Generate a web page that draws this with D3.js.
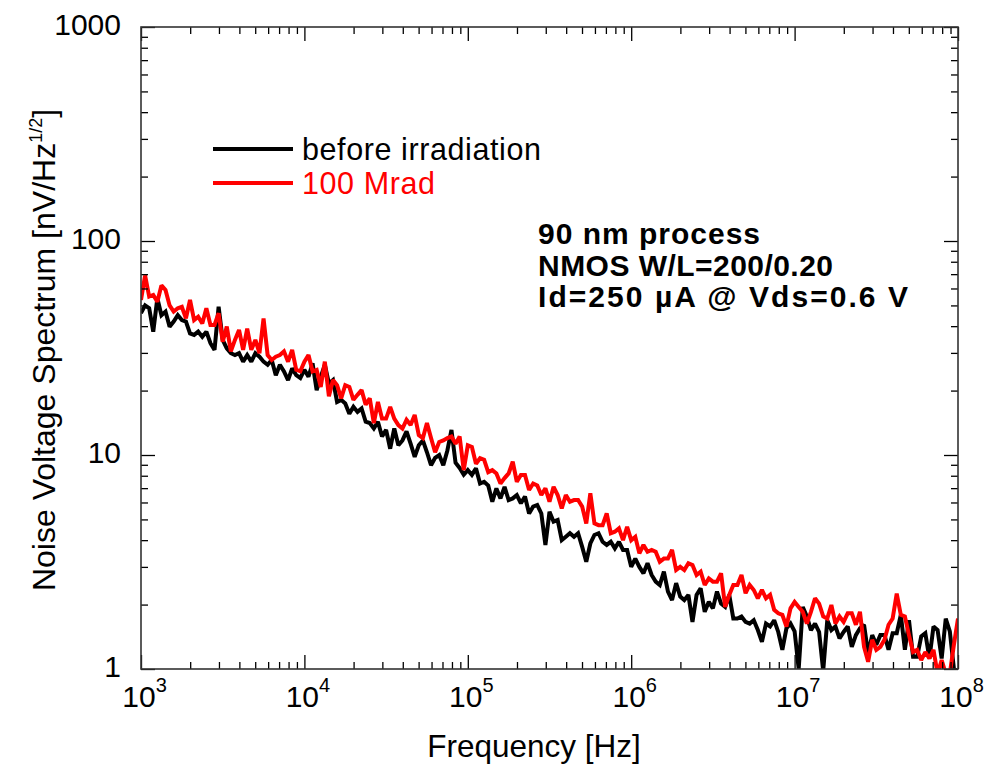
<!DOCTYPE html>
<html><head><meta charset="utf-8">
<script src="https://cdn.jsdelivr.net/npm/d3@7/dist/d3.min.js"></script>
<style>
body{margin:0;background:#fff}
svg{display:block}
text{font-family:"Liberation Sans",Arial,Helvetica,sans-serif;fill:#000}
</style>
</head><body>
<svg id="chart" width="998" height="770"></svg>
<script>
// ---- data ----
const beforeIrradiation = [
  46, 50, 48.5, 37.7, 54, 45, 46.8, 39.8, 42, 45, 42.7, 42, 37, 36.4, 37.7, 35.7, 37.7, 33.3, 31, 49.3,
  34.5, 31.5, 29.9, 29.3, 29.9, 27.3, 29.3, 27.3, 29.9, 28.8, 27.3, 26.4, 27.8, 23.6, 26.4, 24.6, 22.4, 25.4, 23.6, 22.9,
  25, 23.2, 26.8, 20.1, 23.2, 26.4, 21.6, 22.4, 17.7, 18.1, 17.4, 15.6, 16.8, 15.9, 16.5, 14.3, 14.1, 13.3, 14.3, 12.2,
  13.1, 10.7, 13.3, 11.1, 11.7, 12.9, 11.3, 9.8, 11.1, 11.7, 10.3, 8.96, 9.7, 10, 8.96, 10.5, 13.1, 9.2, 8.7, 8.1,
  8.5, 8.07, 8.66, 7.36, 7.5, 7.2, 6.05, 6.98, 6.27, 7.1, 6.16, 6.27, 6.5, 5.95, 6.4, 5.33, 5.74, 5.84, 5.33, 3.8,
  5.43, 4.88, 4.97, 4.0, 4.15, 4.31, 4.15, 4.31, 3.72, 3.17, 3.86, 4.23, 4.31, 3.93, 3.8, 3.93, 3.66, 3.93, 3.6, 3.6,
  3.0, 3.28, 3.0, 2.8, 3.12, 2.75, 2.56, 2.47, 2.85, 2.3, 2.1, 2.52, 2.18, 2.1, 2.22, 1.66, 2.22, 2.38, 1.85, 2.06,
  1.92, 2.3, 2.02, 1.95, 2.22, 1.72, 1.72, 1.76, 1.66, 1.63, 1.69, 1.52, 1.34, 1.63, 1.58, 1.69, 1.49, 1.23, 1.55, 1.63,
  1.5, 1.0, 1.95, 1.76, 1.52, 1.63, 1.49, 0.98, 1.69, 1.52, 1.58, 1.39, 1.49, 1.58, 1.27, 1.44, 1.55, 1.61, 1.18, 1.44,
  1.30, 1.44, 1.44, 1.23, 1.47, 1.47, 1.79, 1.23, 1.69, 1.14, 1.14, 1.42, 1.47, 1.12, 1.58, 1.52, 1.12, 1.72, 1.5, 1.0,
  0.98
];
const after100Mrad = [
  53, 69, 55, 56, 52, 62, 59, 50, 46.8, 48.5, 49.3, 43.5, 53, 42.7, 44.3, 41.2, 48.5, 40.5, 40.5, 46,
  33.8, 39.8, 30.5, 34.5, 38.4, 31, 39, 31, 34.5, 29.9, 43.5, 29.3, 27.8, 28.8, 29.3, 30.5, 27.3, 31, 25, 24.6,
  27.3, 29.3, 24.6, 25, 20.8, 27.3, 18.8, 22.4, 21.2, 18.4, 21.2, 20.8, 18.1, 19.1, 20.1, 17.2, 18.4, 14.1, 17.7, 14.8,
  14.8, 16.8, 14.8, 13.8, 13.3, 14.6, 13.8, 15.4, 12.4, 12, 14.1, 12, 10.3, 11.5, 11.7, 12, 12.2, 11.3, 12.2, 8.5,
  11.1, 10.9, 9.1, 9.66, 9.5, 8.32, 8.5, 8.2, 7.36, 7.8, 8.2, 9.3, 7.5, 8.07, 8.07, 6.86, 7.36, 7.2, 6.5, 6.98,
  6.05, 7.1, 6.5, 5.63, 6.5, 6.05, 6.16, 6.16, 5.74, 4.79, 6.62, 4.79, 4.7, 4.7, 5.33, 4.31, 4.38, 4.54, 4.0, 4.62,
  4.0, 4.15, 3.47, 3.8, 3.53, 3.6, 3.53, 3.17, 3.28, 3.28, 3.6, 2.9, 3.0, 2.9, 3.12, 3.06, 2.75, 2.85, 2.47, 2.65,
  2.56, 2.56, 2.8, 1.95, 2.22, 2.47, 2.47, 2.75, 2.26, 2.47, 2.34, 2.14, 2.34, 2.14, 2.22, 1.89, 1.82, 1.79, 1.58, 1.92,
  2.06, 1.95, 1.85, 1.63, 1.85, 2.14, 2.02, 1.76, 1.72, 1.99, 1.63, 1.76, 1.66, 1.82, 1.82, 1.61, 1.85, 1.27, 1.08, 1.37,
  1.23, 1.27, 1.37, 1.61, 1.72, 2.25, 1.79, 1.76, 1.44, 1.2, 1.23, 1.10, 1.2, 1.12, 1.23, 0.95, 1.1, 0.95, 0.95, 1.3,
  1.72
];
// frequency grid: log-spaced sweep from 1 kHz, 40 points per decade
const sweepStartExp = 3;
const sweepPointsPerDecade = 40;
const frequencies = beforeIrradiation.map((_, i) => Math.pow(10, sweepStartExp + i / sweepPointsPerDecade));

const seriesNames = ["before irradiation", "100 Mrad"];
const seriesColors = ["#000000", "#ff0000"];

const xMajorTicks = [1e3, 1e4, 1e5, 1e6, 1e7, 1e8];
const xTickExponents = ["3", "4", "5", "6", "7", "8"];
const yMajorTicks = [1, 10, 100, 1000];
const yTickLabels = ["1", "10", "100", "1000"];
const annotationLines = ["90 nm process", "NMOS W/L=200/0.20", "Id=250 \u00b5A @ Vds=0.6 V"];

// ---- layout ----
const P = {left: 141, right: 958, top: 27, bottom: 669};
const svg = d3.select("#chart");
const x = d3.scaleLog().domain([1e3, 1e8]).range([P.left, P.right]);
const y = d3.scaleLog().domain([1, 1000]).range([P.bottom, P.top]);

const minorOf = (majors) => {
  const out = [];
  majors.slice(0, -1).forEach(m => { for (let k = 2; k <= 9; k++) out.push(m * k); });
  return out;
};
const xMinorTicks = minorOf(xMajorTicks);
const yMinorTicks = minorOf(yMajorTicks);

svg.append("defs").append("clipPath").attr("id", "plotclip")
  .append("rect").attr("x", P.left).attr("y", P.top)
  .attr("width", P.right - P.left).attr("height", P.bottom - P.top);

// data lines
const line = d3.line().x(d => x(d[0])).y(d => y(d[1]));
const dataG = svg.append("g").attr("clip-path", "url(#plotclip)");
[beforeIrradiation, after100Mrad].forEach((vals, s) => {
  dataG.append("path")
    .datum(frequencies.map((f, i) => [f, vals[i]]))
    .attr("d", line)
    .attr("fill", "none")
    .attr("stroke", seriesColors[s])
    .attr("stroke-width", 4)
    .attr("stroke-linejoin", "miter")
    .attr("stroke-miterlimit", 2);
});

// axes (ticks inside on all four sides)
function clean(g) {
  g.select(".domain").remove();
  g.selectAll(".tick line").attr("stroke", "#000").attr("stroke-width", 1.3);
}
function noText(g) { g.selectAll(".tick text").remove(); }

// bottom
const gxb = svg.append("g").attr("transform", `translate(0,${P.bottom})`)
  .call(d3.axisBottom(x).tickValues(xMajorTicks).tickSize(-14).tickFormat(() => "10"))
  .call(clean);
gxb.selectAll(".tick text")
  .attr("font-size", 30).attr("y", 38).attr("dy", 0).attr("x", 3)
  .attr("font-family", null)
  .each(function(d, i) {
    d3.select(this).append("tspan").attr("dy", -15).attr("font-size", 20).text(xTickExponents[i]);
  });
svg.append("g").attr("transform", `translate(0,${P.bottom})`)
  .call(d3.axisBottom(x).tickValues(xMinorTicks).tickSize(-7)).call(clean).call(noText);
// top
svg.append("g").attr("transform", `translate(0,${P.top})`)
  .call(d3.axisTop(x).tickValues(xMajorTicks).tickSize(-14)).call(clean).call(noText);
svg.append("g").attr("transform", `translate(0,${P.top})`)
  .call(d3.axisTop(x).tickValues(xMinorTicks).tickSize(-7)).call(clean).call(noText);
// left
const gyl = svg.append("g").attr("transform", `translate(${P.left},0)`)
  .call(d3.axisLeft(y).tickValues(yMajorTicks).tickSize(-14).tickPadding(20)
    .tickFormat((d, i) => yTickLabels[i]))
  .call(clean);
gyl.selectAll(".tick text").attr("font-size", 30).attr("dy", "0.26em").attr("font-family", null);
svg.append("g").attr("transform", `translate(${P.left},0)`)
  .call(d3.axisLeft(y).tickValues(yMinorTicks).tickSize(-7)).call(clean).call(noText);
// right
svg.append("g").attr("transform", `translate(${P.right},0)`)
  .call(d3.axisRight(y).tickValues(yMajorTicks).tickSize(-14)).call(clean).call(noText);
svg.append("g").attr("transform", `translate(${P.right},0)`)
  .call(d3.axisRight(y).tickValues(yMinorTicks).tickSize(-7)).call(clean).call(noText);

// frame
svg.append("rect").attr("x", P.left).attr("y", P.top)
  .attr("width", P.right - P.left).attr("height", P.bottom - P.top)
  .attr("fill", "none").attr("stroke", "#333").attr("stroke-width", 1.6);

// axis titles
svg.append("text").attr("x", 534).attr("y", 757).attr("text-anchor", "middle")
  .attr("font-size", 31.5).text("Frequency [Hz]");
const yt = svg.append("text").attr("transform", "translate(55,350) rotate(-90)")
  .attr("text-anchor", "middle").attr("font-size", 32);
yt.append("tspan").text("Noise Voltage Spectrum [nV/Hz");
yt.append("tspan").attr("dy", -13).attr("font-size", 18).text("1/2");
yt.append("tspan").attr("dy", 13).text("]");

// legend
const legY = [149, 183];
const legLen = [239, 133];
seriesNames.forEach((name, i) => {
  svg.append("line").attr("x1", 213).attr("x2", 293).attr("y1", legY[i]).attr("y2", legY[i])
    .attr("stroke", seriesColors[i]).attr("stroke-width", 4);
  svg.append("text").attr("x", 302).attr("y", legY[i] + 11).attr("font-size", 30.5)
    .attr("textLength", legLen[i]).attr("lengthAdjust", "spacing")
    .style("fill", seriesColors[i]).text(name);
});

// annotation
const annLen = [222, 295, 370];
annotationLines.forEach((t, i) => {
  svg.append("text").attr("x", 538).attr("y", 244 + i * 31.5)
    .attr("font-size", 30).attr("font-weight", "bold")
    .attr("textLength", annLen[i]).attr("lengthAdjust", "spacing").text(t);
});
</script>
</body></html>
